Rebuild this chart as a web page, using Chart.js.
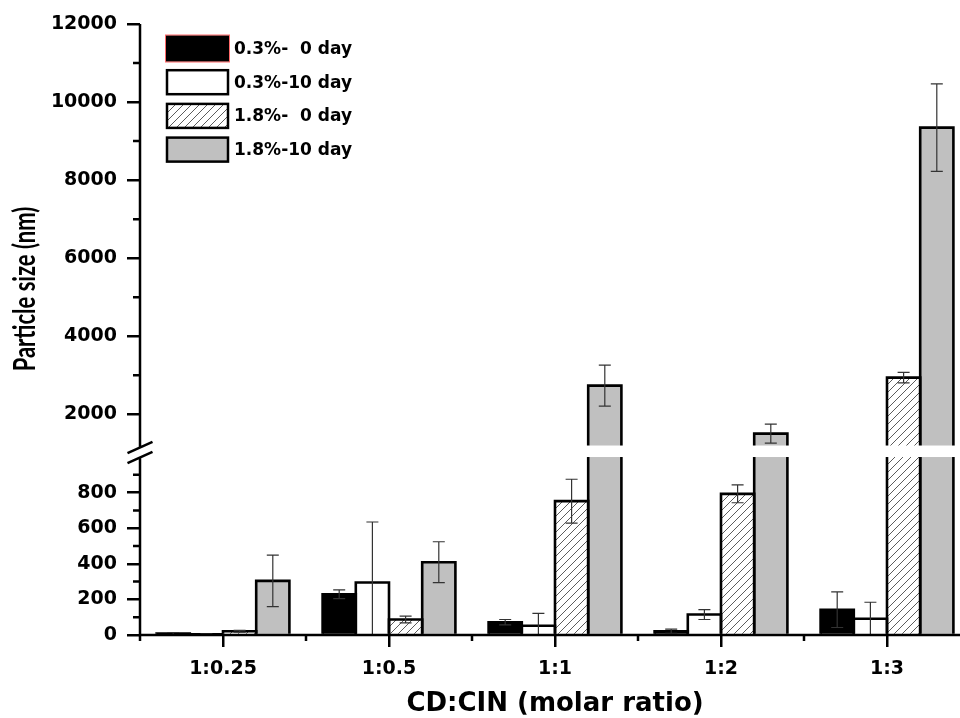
<!DOCTYPE html>
<html><head><meta charset="utf-8">
<script src="https://cdn.jsdelivr.net/npm/chart.js@4.4.1/dist/chart.umd.min.js"></script>
<style>
html,body{margin:0;padding:0;background:#fff;overflow:hidden;width:960px;height:718px}
#wrap{width:980px;height:718px}
canvas{display:block}
</style></head>
<body><div id="wrap"><canvas id="c" width="980" height="718"></canvas></div>
<script>
const categories = ['1:0.25', '1:0.5', '1:1', '1:2', '1:3'];
const seriesLabels = ['0.3%-  0 day', '0.3%-10 day', '1.8%-  0 day', '1.8%-10 day'];
const size03_day0  = [8, 229, 72, 21, 142];
const err03_day0   = [6, 25, 15, 12, 100];
const size03_day10 = [4, 295, 52, 115, 91];
const err03_day10  = [3, 340, 70, 28, 93];
const size18_day0  = [21, 87, 752, 793, 2941];
const err18_day0   = [5, 19, 123, 50, 135];
const size18_day10 = [304, 409, 2736, 1505, 9345];
const err18_day10  = [145, 115, 525, 245, 1120];
const yTickValues  = [0, 200, 400, 600, 800, 2000, 4000, 6000, 8000, 10000, 12000];
const yMinorValues = [100, 300, 500, 700, 900, 3000, 5000, 7000, 9000, 11000];
const xTitle = 'CD:CIN (molar ratio)';
const yTitle = 'Particle size (nm)';

// broken axis definition
const BREAK_LOW = 1000, BREAK_HIGH = 1200, Y_MAX = 12000;
const LOW_FRAC = 0.2913, HIGH_FRAC = 0.3101;

class BrokenLinearScale extends Chart.LinearScale {
  getPixelForValue(value) {
    const H = this.bottom - this.top;
    let f;
    if (value <= BREAK_LOW) f = value / BREAK_LOW * LOW_FRAC;
    else if (value >= BREAK_HIGH) f = HIGH_FRAC + (value - BREAK_HIGH) / (Y_MAX - BREAK_HIGH) * (1 - HIGH_FRAC);
    else f = LOW_FRAC + (value - BREAK_LOW) / (BREAK_HIGH - BREAK_LOW) * (HIGH_FRAC - LOW_FRAC);
    return this.bottom - f * H;
  }
  getValueForPixel(pixel) {
    const f = (this.bottom - pixel) / (this.bottom - this.top);
    if (f <= LOW_FRAC) return f / LOW_FRAC * BREAK_LOW;
    if (f >= HIGH_FRAC) return BREAK_HIGH + (f - HIGH_FRAC) / (1 - HIGH_FRAC) * (Y_MAX - BREAK_HIGH);
    return BREAK_LOW + (f - LOW_FRAC) / (HIGH_FRAC - LOW_FRAC) * (BREAK_HIGH - BREAK_LOW);
  }
}
BrokenLinearScale.id = 'brokenLinear';
BrokenLinearScale.defaults = Chart.LinearScale.defaults;
Chart.register(BrokenLinearScale);

function makeHatch() {
  const s = 8;
  const pc = document.createElement('canvas');
  pc.width = s; pc.height = s;
  const g = pc.getContext('2d');
  g.fillStyle = '#ffffff'; g.fillRect(0, 0, s, s);
  g.strokeStyle = '#4a4a4a'; g.lineWidth = 0.9;
  g.beginPath();
  g.moveTo(-1, s + 1); g.lineTo(s + 1, -1);
  g.moveTo(-1, 1); g.lineTo(1, -1);
  g.moveTo(s - 1, s + 1); g.lineTo(s + 1, s - 1);
  g.stroke();
  return g.createPattern(pc, 'repeat');
}
const hatch = makeHatch();
const errorArrays = [err03_day0, err03_day10, err18_day0, err18_day10];

const decorPlugin = {
  id: 'decor',
  afterDatasetsDraw(chart) {
    const ctx = chart.ctx, ca = chart.chartArea, ys = chart.scales.y, xs = chart.scales.x;
    ctx.save();
    // bar outlines
    chart.data.datasets.forEach((ds, di) => {
      const meta = chart.getDatasetMeta(di);
      meta.data.forEach((el) => {
        const p = el.getProps(['x', 'y', 'base', 'width'], true);
        const l = p.x - p.width / 2, r = p.x + p.width / 2;
        ctx.beginPath();
        ctx.moveTo(l, p.base); ctx.lineTo(l, p.y); ctx.lineTo(r, p.y); ctx.lineTo(r, p.base);
        ctx.lineWidth = 2.6; ctx.strokeStyle = '#000'; ctx.lineJoin = 'miter'; ctx.stroke();
      });
    });
    // error bars
    ctx.strokeStyle = '#333'; ctx.lineWidth = 1.2;
    chart.data.datasets.forEach((ds, di) => {
      const meta = chart.getDatasetMeta(di);
      const errs = errorArrays[di];
      meta.data.forEach((el, i) => {
        const v = ds.data[i], e = errs[i];
        const x = el.getProps(['x'], true).x;
        const yHi = ys.getPixelForValue(v + e);
        const lowV = v - e;
        const yLo = ys.getPixelForValue(Math.max(0, lowV));
        ctx.beginPath();
        ctx.moveTo(x, yLo); ctx.lineTo(x, yHi);
        ctx.moveTo(x - 6, yHi); ctx.lineTo(x + 6, yHi);
        if (lowV > 0) { ctx.moveTo(x - 6, yLo); ctx.lineTo(x + 6, yLo); }
        ctx.stroke();
      });
    });
    // axis break gap
    const gTop = ys.getPixelForValue(BREAK_HIGH), gBot = ys.getPixelForValue(BREAK_LOW);
    ctx.fillStyle = '#fff';
    ctx.fillRect(ca.left + 1.5, gTop, ca.right - ca.left + 10, gBot - gTop);
    // axes
    ctx.strokeStyle = '#000'; ctx.lineWidth = 2.5; ctx.lineCap = 'butt';
    const s1 = gTop + 2, s2 = gBot + 0.5;
    ctx.beginPath();
    ctx.moveTo(ca.left, ca.top); ctx.lineTo(ca.left, s1);
    ctx.moveTo(ca.left, s2); ctx.lineTo(ca.left, ca.bottom + 1.25);
    ctx.moveTo(ca.left - 1.25, ca.bottom); ctx.lineTo(ca.right + 5, ca.bottom);
    // break slashes
    ctx.moveTo(ca.left - 12.5, s1 + 5.7); ctx.lineTo(ca.left + 12.5, s1 - 5.7);
    ctx.moveTo(ca.left - 12.5, s2 + 5.7); ctx.lineTo(ca.left + 12.5, s2 - 5.7);
    ctx.stroke();
    // minor y ticks
    ctx.beginPath();
    yMinorValues.forEach(v => {
      const y = ys.getPixelForValue(v);
      ctx.moveTo(ca.left - 7, y); ctx.lineTo(ca.left, y);
    });
    // minor x ticks at category boundaries
    for (let i = 0; i <= categories.length; i++) {
      const x = xs.getPixelForValue(i - 0.5);
      ctx.moveTo(x, ca.bottom); ctx.lineTo(x, ca.bottom + 6);
    }
    ctx.stroke();
    // legend
    const lx = 167, bw = 61, bh = 24, pitch = 33.7, top0 = 36.5;
    ctx.font = 'bold 17px "DejaVu Sans"';
    ctx.textBaseline = 'middle'; ctx.textAlign = 'left';
    chart.data.datasets.forEach((ds, di) => {
      const t = top0 + di * pitch;
      ctx.fillStyle = ds.backgroundColor;
      ctx.fillRect(lx, t, bw, bh);
      ctx.lineWidth = 2.5; ctx.strokeStyle = '#000';
      ctx.strokeRect(lx, t, bw, bh);
      if (di === 0) {
        ctx.lineWidth = 1; ctx.strokeStyle = '#ff6a6a';
        ctx.strokeRect(lx - 1.5, t - 1.5, bw + 3, bh + 3);
      }
      ctx.fillStyle = '#000';
      ctx.fillText(ds.label, lx + bw + 6, t + bh / 2 + 1);
    });
    // y title (text horizontally widened like the source figure)
    ctx.save();
    ctx.translate(25, 289);
    ctx.rotate(-Math.PI / 2);
    ctx.scale(1, 1.35);
    ctx.textAlign = 'center'; ctx.textBaseline = 'middle';
    ctx.font = 'bold 22px Lato';
    ctx.fillStyle = '#000';
    ctx.fillText(yTitle, 0, 0);
    ctx.restore();
    ctx.restore();
  }
};

const tickFont = {family: 'DejaVu Sans', weight: 'bold', size: 19};

new Chart(document.getElementById('c'), {
  type: 'bar',
  data: {
    labels: categories,
    datasets: [
      {label: seriesLabels[0], data: size03_day0, backgroundColor: '#000000'},
      {label: seriesLabels[1], data: size03_day10, backgroundColor: '#ffffff'},
      {label: seriesLabels[2], data: size18_day0, backgroundColor: hatch},
      {label: seriesLabels[3], data: size18_day10, backgroundColor: '#c0c0c0'}
    ]
  },
  options: {
    responsive: false,
    animation: false,
    devicePixelRatio: 1,
    layout: {padding: {top: 24, right: 10, left: 0, bottom: 0}},
    plugins: {legend: {display: false}, tooltip: {enabled: false}},
    datasets: {bar: {categoryPercentage: 0.8, barPercentage: 1.0, borderWidth: 0}},
    scales: {
      x: {
        type: 'category', offset: true,
        grid: {display: true, drawOnChartArea: false, drawTicks: true, tickLength: 12, color: '#000', lineWidth: 2.5, offset: false},
        border: {display: false},
        ticks: {color: '#000', font: tickFont, padding: 11, maxRotation: 0, autoSkip: false},
        title: {display: true, text: xTitle, color: '#000', font: {family: 'DejaVu Sans', weight: 'bold', size: 26}, padding: {top: 0, bottom: -2}},
        afterFit(s) { s.height = 83; }
      },
      y: {
        type: 'brokenLinear', min: 0, max: Y_MAX,
        afterBuildTicks(s) { s.ticks = yTickValues.map(v => ({value: v})); },
        grid: {display: true, drawOnChartArea: false, drawTicks: true, tickLength: 13, color: '#000', lineWidth: 2.5},
        border: {display: false},
        ticks: {color: '#000', font: tickFont, padding: 10, autoSkip: false, callback: (v) => String(v)},
        afterFit(s) { s.width = 140; }
      }
    }
  },
  plugins: [decorPlugin]
});
</script>
</body></html>
